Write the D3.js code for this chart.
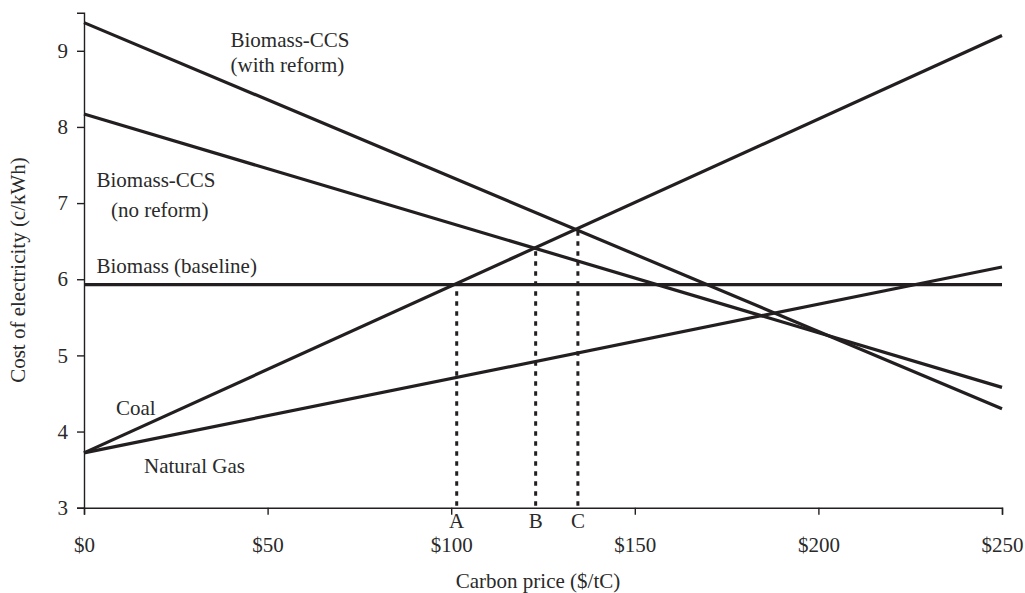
<!DOCTYPE html>
<html>
<head>
<meta charset="utf-8">
<script src="https://cdn.jsdelivr.net/npm/d3@7"></script>
<style>
  html, body { margin: 0; padding: 0; background: #fff; }
  text { font-family: "Liberation Serif", "Times New Roman", serif; fill: #2a2a2a; }
</style>
</head>
<body>
<svg id="chart" width="1025" height="593"></svg>
<script>
// ---- Data ----
const prices = [0, 250];                    // carbon price, $/tC (line end points)
const coal = [3.72, 9.2];
const naturalGas = [3.72, 6.16];
const biomassBaseline = [5.93, 5.93];
const ccsNoReform = [8.17, 4.58];
const ccsWithReform = [9.37, 4.30];

const xTicks = [0, 50, 100, 150, 200, 250];
const xTickLabels = ["$0", "$50", "$100", "$150", "$200", "$250"];
const yTicks = [3, 4, 5, 6, 7, 8, 9];

const markerLabels = ["A", "B", "C"];
const markerPrices = [101.5, 123, 134.5];
const markerTops = [5.93, 6.41, 6.67];

const series = [
  { name: "Coal", values: coal },
  { name: "Natural Gas", values: naturalGas },
  { name: "Biomass (baseline)", values: biomassBaseline },
  { name: "Biomass-CCS (no reform)", values: ccsNoReform },
  { name: "Biomass-CCS (with reform)", values: ccsWithReform }
];

// ---- Layout ----
const svg = d3.select("#chart");
const x = d3.scaleLinear().domain([0, 250]).range([84, 1002]);
const y = d3.scaleLinear().domain([3, 9.5]).range([507.7, 12.7]);
const ink = "#231f20";
const fs = 21;

// axes
const xAxis = svg.append("g").attr("transform", `translate(0,${y(3)})`)
  .call(d3.axisBottom(x).tickValues(xTicks).tickFormat((d, i) => xTickLabels[i]).tickSizeOuter(0).tickSize(7).tickPadding(22));
const yAxis = svg.append("g").attr("transform", `translate(${x(0)},0)`)
  .call(d3.axisLeft(y).tickValues(yTicks).tickFormat(d3.format("d")).tickSizeOuter(0).tickSize(7).tickPadding(9));

[xAxis, yAxis].forEach(g => {
  g.select(".domain").attr("stroke", ink).attr("stroke-width", 1.4);
  g.selectAll(".tick line").attr("stroke", ink).attr("stroke-width", 1.4);
  g.selectAll(".tick text").attr("font-size", fs).attr("font-family", "Liberation Serif").attr("fill", "#2a2a2a");
});
xAxis.selectAll(".tick text").attr("dy", "0.71em");

// dotted markers
const markers = svg.append("g");
markerPrices.forEach((p, i) => {
  markers.append("line")
    .attr("x1", x(p)).attr("x2", x(p))
    .attr("y1", y(3) - 2).attr("y2", y(markerTops[i]))
    .attr("stroke", ink).attr("stroke-width", 3)
    .attr("stroke-dasharray", "4.5,5.5");
  markers.append("text")
    .attr("x", x(p)).attr("y", 528)
    .attr("text-anchor", "middle").attr("font-size", fs)
    .text(markerLabels[i]);
});

// lines
const line = d3.line().x((d, i) => x(prices[i])).y(d => y(d));
svg.append("g").selectAll("path").data(series).join("path")
  .attr("d", d => line(d.values))
  .attr("fill", "none").attr("stroke", ink).attr("stroke-width", 3.2);

// labels
const labels = [
  { lines: ["Biomass-CCS", "(with reform)"], px: 230.5, py: [46.5, 72] },
  { lines: ["Biomass-CCS", "(no reform)"], px: 96.5, py: [186.5, 216.5], dx: [0, 14.5] },
  { lines: ["Biomass (baseline)"], px: 96.5, py: [272.5] },
  { lines: ["Coal"], px: 116, py: [415] },
  { lines: ["Natural Gas"], px: 144, py: [473.3] }
];
labels.forEach(l => {
  l.lines.forEach((t, i) => {
    svg.append("text")
      .attr("x", l.px + (l.dx ? l.dx[i] : 0)).attr("y", l.py[i])
      .attr("font-size", fs).text(t);
  });
});

// axis titles
svg.append("text")
  .attr("x", (x(0) + x(250)) / 2 - 5).attr("y", 588)
  .attr("text-anchor", "middle").attr("font-size", fs)
  .text("Carbon price ($/tC)");
svg.append("text")
  .attr("transform", `translate(25,270) rotate(-90)`)
  .attr("text-anchor", "middle").attr("font-size", fs)
  .text("Cost of electricity (c/kWh)");
</script>
</body>
</html>
